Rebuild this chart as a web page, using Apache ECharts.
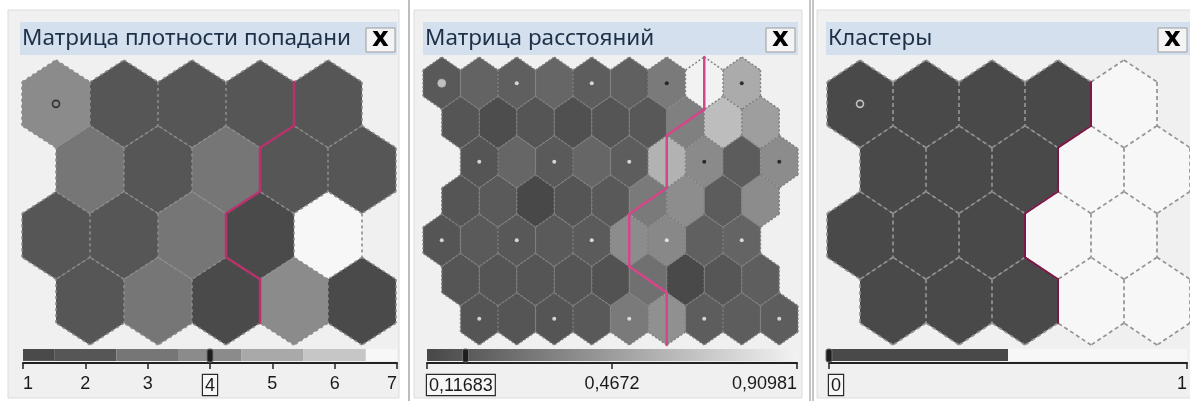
<!DOCTYPE html>
<html>
<head>
<meta charset="utf-8">
<script src="https://cdn.jsdelivr.net/npm/echarts@6/dist/echarts.min.js"></script>
<style>
html, body { margin: 0; padding: 0; background: #fff; }
#chart { width: 1190px; height: 401px; }
</style>
</head>
<body>
<div id="chart"></div>
<script>
// карта Кохонена 5x4, гексагональная сетка
var densityTicks = [1, 2, 3, 4, 5, 6, 7];
var densityColors = ['#4a4a4a', '#565656', '#767676', '#8b8b8b', '#a9a9a9', '#c6c6c6', '#f7f7f7'];
var densityRows = [
    [4, 2, 2, 2, 2],
    [3, 2, 3, 2, 2],
    [2, 2, 3, 1, 7],
    [2, 3, 1, 4, 1]
];
var clusterRows = [
    [0, 0, 0, 0, 1],
    [0, 0, 0, 1, 1],
    [0, 0, 0, 1, 1],
    [0, 0, 0, 1, 1]
];
var clusterColors = ['#494949', '#f7f7f7'];
var clusterTicks = [0, 1];
// матрица расстояний 9x7
var distanceRows = [
    [0.117, 0.169, 0.149, 0.185, 0.138, 0.154, 0.289, 0.909, 0.542],
    [0.097, 0.056, 0.097, 0.071, 0.097, 0.113, 0.320, 0.635, 0.475],
    [0.097, 0.185, 0.123, 0.185, 0.138, 0.578, 0.371, 0.133, 0.382],
    [0.097, 0.123, 0.030, 0.097, 0.118, 0.289, 0.387, 0.133, 0.382],
    [0.097, 0.123, 0.113, 0.123, 0.128, 0.382, 0.361, 0.154, 0.175],
    [0.097, 0.097, 0.097, 0.097, 0.082, 0.237, 0.035, 0.102, 0.143],
    [0.097, 0.097, 0.097, 0.118, 0.289, 0.402, 0.138, 0.138, 0.138]
];
var distanceTicks = [0.02459, 0.4672, 0.90981];
var distanceColors = ['#474747', '#f2f2f2'];
var darkDotRows = [
    [0, 0, 0, 1, 1],
    [0, 0, 0, 1, 1],
    [0, 0, 0, 0, 0],
    [0, 0, 0, 0, 0]
];
var selectedNeuron = [0, 0];
var selectedDensity = 4, selectedDistance = 0.11683, selectedCluster = 0;

var distMin = distanceTicks[0], distMax = distanceTicks[distanceTicks.length - 1];

function hexToGray(h) { return parseInt(h.slice(1, 3), 16); }
function distanceColor(v) {
    var a = hexToGray(distanceColors[0]), b = hexToGray(distanceColors[1]);
    var t = Math.max(0, Math.min(1, (v - distMin) / (distMax - distMin)));
    var c = Math.round(a + t * (b - a));
    return 'rgb(' + c + ',' + c + ',' + c + ')';
}
function comma(v) { return String(v).replace('.', ','); }

var somOffset = function (r) { return r % 2 ? 0.5 : 0; };
var umatOffset = function (r) { return [0, 0.5, 1, 0.5][r % 4]; };

// ячейки: [u, v, значение]
function buildCells(rows, offset) {
    var out = [];
    for (var r = 0; r < rows.length; r++) {
        for (var c = 0; c < rows[r].length; c++) {
            out.push([c + offset(r), r, rows[r][c]]);
        }
    }
    return out;
}
var densityCells = buildCells(densityRows, somOffset);
var clusterCells = buildCells(clusterRows, somOffset);
var distanceCells = buildCells(distanceRows, umatOffset);

var HEX = [[0, -2 / 3], [0.5, -1 / 3], [0.5, 1 / 3], [0, 2 / 3], [-0.5, 1 / 3], [-0.5, -1 / 3]];
// соседи по ребру i (между вершинами i и i+1)
var NB = [[0.5, -1], [1, 0], [0.5, 1], [-0.5, 1], [-1, 0], [-0.5, -1]];

function key(u, v) { return u.toFixed(1) + ',' + v; }

function cellSeries(cells, colorFn, gi) {
    return {
        type: 'custom', coordinateSystem: 'cartesian2d', xAxisIndex: gi, yAxisIndex: gi,
        clip: false, z: 2, silent: true,
        data: cells,
        renderItem: function (params, api) {
            var u = api.value(0), v = api.value(1);
            var pts = HEX.map(function (d) { return api.coord([u + d[0], v + d[1]]); });
            return { type: 'polygon', shape: { points: pts }, style: { fill: colorFn(api.value(2)), stroke: null } };
        }
    };
}

function edgeSeries(cells, gi, dash, color, width) {
    var have = {};
    cells.forEach(function (c) { have[key(c[0], c[1])] = true; });
    return {
        type: 'custom', coordinateSystem: 'cartesian2d', xAxisIndex: gi, yAxisIndex: gi,
        clip: false, z: 3, silent: true,
        data: cells.map(function (c) { return [c[0], c[1]]; }),
        renderItem: function (params, api) {
            var u = api.value(0), v = api.value(1);
            var kids = [];
            for (var i = 0; i < 6; i++) {
                var own = (i >= 1 && i <= 3) || !have[key(u + NB[i][0], v + NB[i][1])];
                if (!own) continue;
                var a = HEX[i], b = HEX[(i + 1) % 6];
                kids.push({
                    type: 'line',
                    shape: (function (p1, p2) { return { x1: p1[0], y1: p1[1], x2: p2[0], y2: p2[1] }; })(
                        api.coord([u + a[0], v + a[1]]), api.coord([u + b[0], v + b[1]])),
                    style: { stroke: color, lineWidth: width, lineDash: dash }
                });
            }
            return { type: 'group', children: kids };
        }
    };
}

// граница кластеров по соседям с разными метками
function boundarySegments(scale) {
    var segs = [];
    var cells = clusterCells;
    var lookup = {};
    cells.forEach(function (c) { lookup[key(c[0], c[1])] = c[2]; });
    cells.forEach(function (c) {
        for (var i = 1; i <= 3; i++) {
            var k = key(c[0] + NB[i][0], c[1] + NB[i][1]);
            if (lookup[k] === undefined || lookup[k] === c[2]) continue;
            var a = HEX[i], b = HEX[(i + 1) % 6];
            segs.push([(c[0] + a[0]) * scale, (c[1] + a[1]) * scale, (c[0] + b[0]) * scale, (c[1] + b[1]) * scale]);
        }
    });
    return segs;
}

function boundarySeries(segs, gi, color, width) {
    return {
        type: 'custom', coordinateSystem: 'cartesian2d', xAxisIndex: gi, yAxisIndex: gi,
        clip: false, z: 4, silent: true,
        data: segs,
        renderItem: function (params, api) {
            var p1 = api.coord([api.value(0), api.value(1)]);
            var p2 = api.coord([api.value(2), api.value(3)]);
            return { type: 'line', shape: { x1: p1[0], y1: p1[1], x2: p2[0], y2: p2[1] },
                style: { stroke: color, lineWidth: width, lineCap: 'round' } };
        }
    };
}

// точки нейронов на матрице расстояний
var neuronDots = [];
densityRows.forEach(function (row, r) {
    row.forEach(function (x, c) {
        var sel = r === selectedNeuron[0] && c === selectedNeuron[1];
        neuronDots.push({
            value: [2 * (c + somOffset(r)), 2 * r],
            symbolSize: sel ? 8 : 4,
            itemStyle: sel ? { color: '#d9d9d9', borderColor: '#b5b5b5', borderWidth: 1 }
                : { color: darkDotRows[r][c] ? '#111' : '#f4f4f4' }
        });
    });
});
var selU = selectedNeuron[1] + somOffset(selectedNeuron[0]), selV = selectedNeuron[0];

// цветовые шкалы
var densityBar = densityTicks.map(function (t, i) {
    return [Math.max(densityTicks[0], t - 0.5), Math.min(densityTicks[densityTicks.length - 1], t + 0.5), i];
});
var clusterBar = clusterTicks.map(function (t, i) {
    return [Math.max(0, t - 0.5), Math.min(1, t + 0.5), i];
});

function barSeries(data, gi, fillFn) {
    return {
        type: 'custom', coordinateSystem: 'cartesian2d', xAxisIndex: gi, yAxisIndex: gi,
        clip: false, z: 2, silent: true, data: data,
        renderItem: function (params, api) {
            var p1 = api.coord([api.value(0), 1]);
            var p2 = api.coord([api.value(1), 0.15]);
            return { type: 'rect', shape: { x: p1[0], y: p1[1], width: p2[0] - p1[0], height: p2[1] - p1[1] },
                style: { fill: fillFn(api.value(2)) } };
        }
    };
}
function markerSeries(val, gi) {
    return {
        type: 'custom', coordinateSystem: 'cartesian2d', xAxisIndex: gi, yAxisIndex: gi,
        clip: false, z: 5, silent: true, data: [[val]],
        renderItem: function (params, api) {
            var p1 = api.coord([api.value(0), 1]);
            var p2 = api.coord([api.value(0), 0.07]);
            return { type: 'rect', shape: { x: p1[0] - 3, y: p1[1], width: 6, height: p2[1] - p1[1], r: 2 },
                style: { fill: '#1e1e1e', stroke: '#6e6e6e', lineWidth: 1 } };
        }
    };
}

function hexAxes(gi, xmin, xmax, ymax) {
    return {
        x: { gridIndex: gi, type: 'value', min: xmin, max: xmax, show: false },
        y: { gridIndex: gi, type: 'value', min: -2 / 3, max: ymax + 2 / 3, inverse: true, show: false }
    };
}
var boxRich = { box: { borderColor: '#2a2a2a', borderWidth: 1.2, padding: [2, 2, 0, 2], backgroundColor: '#f6f6f6', fontSize: 18, fontFamily: 'Liberation Sans', color: '#1a1a1a' } };
function barAxis(gi, min, max, ticks, formatter) {
    return {
        gridIndex: gi, type: 'value', min: min, max: max,
        axisLine: { show: true, lineStyle: { color: '#222', width: 2 } },
        axisTick: { show: true, length: 6, customValues: ticks, lineStyle: { color: '#222', width: 1.5 } },
        splitLine: { show: false },
        axisLabel: {
            customValues: ticks, margin: 12, fontSize: 18, color: '#1a1a1a', fontFamily: 'Liberation Sans',
            alignMinLabel: 'left', alignMaxLabel: 'right', formatter: formatter, rich: boxRich
        }
    };
}

var a0 = hexAxes(0, -0.5, 5, 3), a1 = hexAxes(1, -0.5, 9.5, 6), a2 = hexAxes(2, -0.5, 5, 3);
var barY = function (gi) { return { gridIndex: gi, type: 'value', min: 0, max: 1, show: false }; };

var chart = echarts.init(document.getElementById('chart'), null, { renderer: 'canvas' });

function titleBar(x, w, text, closeX) {
    return [
        { type: 'rect', shape: { x: x, y: 22, width: w, height: 33 }, style: { fill: '#d4e0ee' }, z: 0 },
        { type: 'text', x: x + 2, y: 39, style: { text: text, fontSize: 22.5, fontFamily: 'Noto Sans', fill: '#1d3048', verticalAlign: 'middle' }, z: 1 },
        { type: 'rect', shape: { x: closeX, y: 28, width: 29, height: 24 }, style: { fill: '#f4f4f4', stroke: '#9c9c9c', lineWidth: 1 }, z: 1 },
        { type: 'text', x: closeX + 14.5, y: 39, style: { text: 'x', fontSize: 26, fontWeight: 'bold', fontFamily: 'DejaVu Sans', fill: '#000', align: 'center', verticalAlign: 'middle' }, z: 2 }
    ];
}

option = {
    animation: false,
    backgroundColor: '#ffffff',
    graphic: [].concat(
        [
            { type: 'rect', shape: { x: 8, y: 10, width: 391, height: 388 }, style: { fill: '#f0f0f0', stroke: '#dcdcdc' }, z: -1 },
            { type: 'rect', shape: { x: 414, y: 10, width: 388, height: 388 }, style: { fill: '#f0f0f0', stroke: '#dcdcdc' }, z: -1 },
            { type: 'rect', shape: { x: 817, y: 10, width: 380, height: 388 }, style: { fill: '#f0f0f0', stroke: '#dcdcdc' }, z: -1 },
            { type: 'line', shape: { x1: 409, y1: 0, x2: 409, y2: 401 }, style: { stroke: '#bdbdbd', lineWidth: 2 }, z: 0 },
            { type: 'line', shape: { x1: 810, y1: 0, x2: 810, y2: 401 }, style: { stroke: '#8a8a8a', lineWidth: 1 }, z: 0 },
            { type: 'line', shape: { x1: 813, y1: 0, x2: 813, y2: 401 }, style: { stroke: '#8a8a8a', lineWidth: 1 }, z: 0 }
        ],
        titleBar(20, 377, 'Матрица плотности попадани', 366),
        titleBar(423, 375, 'Матрица расстояний', 766),
        titleBar(826, 364, 'Кластеры', 1158)
    ),
    grid: [
        { left: 22, top: 60, width: 374, height: 285 },
        { left: 423, top: 57, width: 375, height: 288 },
        { left: 827, top: 60, width: 363, height: 285 },
        { left: 23, top: 349, width: 374, height: 14 },
        { left: 427, top: 349, width: 370, height: 14 },
        { left: 829, top: 349, width: 359, height: 14 }
    ],
    xAxis: [
        a0.x, a1.x, a2.x,
        barAxis(3, densityTicks[0], densityTicks[densityTicks.length - 1], densityTicks, function (v) {
            return v === selectedDensity ? '{box|' + v + '}' : String(v);
        }),
        barAxis(4, distMin, distMax, distanceTicks, function (v) {
            return v === distMin ? '{box|' + comma(selectedDistance) + '}' : comma(v);
        }),
        barAxis(5, clusterTicks[0], clusterTicks[1], clusterTicks, function (v) {
            return v === selectedCluster ? '{box|' + v + '}' : String(v);
        })
    ],
    yAxis: [a0.y, a1.y, a2.y, barY(3), barY(4), barY(5)],
    series: [
        cellSeries(densityCells, function (v) { return densityColors[densityTicks.indexOf(v)]; }, 0),
        edgeSeries(densityCells, 0, [3, 3], '#8c8c8c', 1.6),
        boundarySeries(boundarySegments(1), 0, '#b8326c', 2.5),
        {
            type: 'scatter', xAxisIndex: 0, yAxisIndex: 0, z: 5, silent: true, symbolSize: 7,
            data: [[selU, selV]], itemStyle: { color: 'rgba(0,0,0,0)', borderColor: '#1a1a1a', borderWidth: 1.6 }
        },

        cellSeries(distanceCells, distanceColor, 1),
        edgeSeries(distanceCells, 1, [2, 2], '#7e7e7e', 1.4),
        boundarySeries(boundarySegments(2), 1, '#d4468a', 2.5),
        { type: 'scatter', xAxisIndex: 1, yAxisIndex: 1, z: 5, silent: true, data: neuronDots },

        cellSeries(clusterCells, function (v) { return clusterColors[v]; }, 2),
        edgeSeries(clusterCells, 2, [4, 3], '#939393', 1.7),
        boundarySeries(boundarySegments(1), 2, '#7e1646', 2),
        {
            type: 'scatter', xAxisIndex: 2, yAxisIndex: 2, z: 5, silent: true, symbolSize: 7,
            data: [[selU, selV]], itemStyle: { color: 'rgba(0,0,0,0)', borderColor: '#dddddd', borderWidth: 1.6 }
        },

        barSeries(densityBar, 3, function (i) { return densityColors[i]; }),
        markerSeries(selectedDensity, 3),
        barSeries([[distMin, distMax, 0]], 4, function () {
            return new echarts.graphic.LinearGradient(0, 0, 1, 0, [
                { offset: 0, color: distanceColors[0] }, { offset: 1, color: distanceColors[1] }]);
        }),
        markerSeries(selectedDistance, 4),
        barSeries(clusterBar, 5, function (i) { return clusterColors[i]; }),
        markerSeries(selectedCluster, 5)
    ]
};
chart.setOption(option);
</script>
</body>
</html>
